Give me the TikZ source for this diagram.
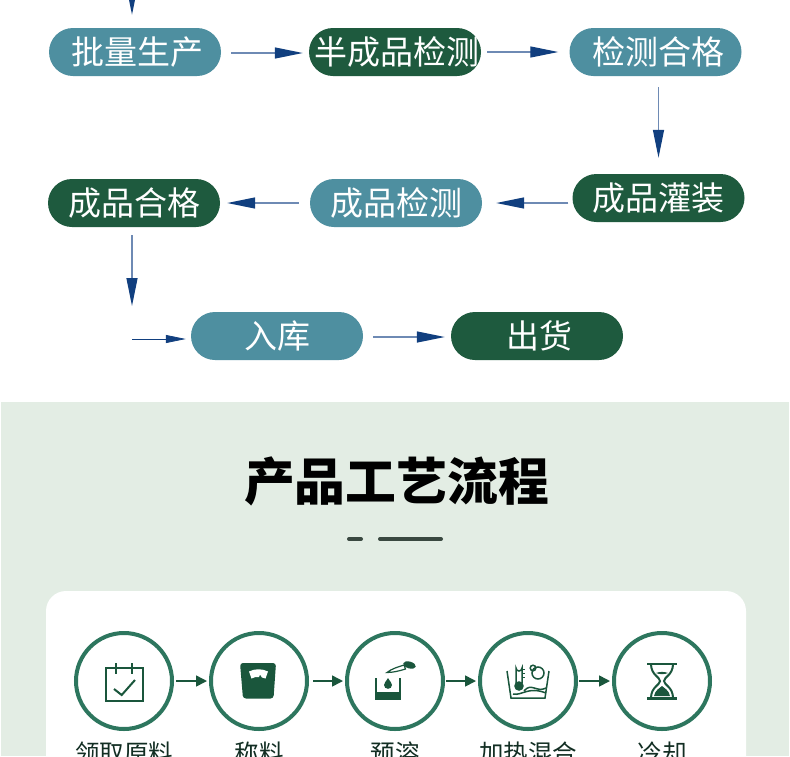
\documentclass[tikz,border=0pt]{standalone}
\usepackage{fontspec}
\newfontfamily\cjk{Noto Sans CJK SC}
\usetikzlibrary{arrows.meta}
\definecolor{pillTeal}{RGB}{78,143,160}
\definecolor{pillGreen}{RGB}{30,90,62}
\definecolor{headNavy}{RGB}{17,63,127}
\definecolor{lineNavy}{RGB}{110,138,180}
\definecolor{panelGreen}{RGB}{227,237,228}
\definecolor{ringGreen}{RGB}{45,118,94}
\definecolor{iconGreen}{RGB}{26,86,60}
\definecolor{barDark}{RGB}{58,72,64}
\definecolor{labelDark}{RGB}{18,46,35}
\tikzset{
  pill/.style={draw=none, rounded corners=24pt, minimum width=172pt, minimum height=48pt,
    inner sep=0pt, text=white, font=\cjk\fontsize{33}{36}\selectfont},
  flowarrow/.style={draw=lineNavy, line width=1.3pt, -{Triangle[length=28pt,width=11pt,color=headNavy]}},
  ring/.style={circle, draw=ringGreen, line width=4pt, minimum size=96pt, inner sep=0pt},
  ringarrow/.style={draw=iconGreen, line width=1.6pt, -{Triangle[length=11pt,width=11pt]}},
  steplabel/.style={inner sep=0pt, text=labelDark, font=\cjk\fontsize{24.5}{28}\selectfont},
  iconline/.style={draw=iconGreen, line width=2pt},
}
\begin{document}
\begin{tikzpicture}[x=1pt, y=-1pt]
    \path[use as bounding box, clip] (0,0) rectangle (790,756);
    \fill[white] (0,0) rectangle (790,756);
    % upper flow chart
    \node[pill, fill=pillTeal] (pill1) at (135,52) {\hspace{4pt}批量生产};
    \node[pill, fill=pillGreen] (pill2) at (395,52) {\hspace{4pt}半成品检测};
    \node[pill, fill=pillTeal] (pill3) at (655.5,52) {\hspace{5pt}检测合格};
    \node[pill, fill=pillGreen] (pill4) at (658.5,198) {成品灌装};
    \node[pill, fill=pillTeal] (pill5) at (396,203) {成品检测};
    \node[pill, fill=pillGreen] (pill6) at (134,203) {成品合格};
    \node[pill, fill=pillTeal] (pill7) at (277,336) {入库};
    \node[pill, fill=pillGreen] (pill8) at (537,336) {\hspace{4pt}出货};
    \coordinate (topend) at (132,-20);
    \coordinate (turn1) at (132,306);
    \coordinate (turn2) at (132,339);
    \draw[flowarrow, shorten >=13pt] (topend) -- (topend |- pill1.north);
    \draw[flowarrow, shorten <=10pt, shorten >=6pt] ([yshift=-1pt]pill1.east) -- ([yshift=-1pt]pill2.west);
    \draw[flowarrow, shorten <=6pt, shorten >=11pt] (pill2.east) -- (pill3.west);
    \draw[flowarrow, shorten <=11pt, shorten >=16pt] (pill3.south -| pill4.north) -- (pill4.north);
    \draw[flowarrow, shorten <=4pt, shorten >=14pt] (pill4.west |- pill5.east) -- (pill5.east);
    \draw[flowarrow, shorten <=11pt, shorten >=7pt] (pill5.west) -- (pill6.east);
    \draw[flowarrow, shorten <=8pt] (turn1 |- pill6.south) -- (turn1);
    \draw[draw=headNavy, line width=0.8pt, -{Triangle[length=20pt,width=8pt,color=headNavy]}, shorten >=5pt] (turn2) -- (pill7.west |- turn2);
    \draw[flowarrow, shorten <=10pt, shorten >=6pt] ([yshift=-1pt]pill7.east) -- ([yshift=-1pt]pill8.west);
    % lower panel
    \fill[panelGreen] (1,402) rectangle (789,756);
    \node[inner sep=0pt, text=black, font=\cjk\bfseries\fontsize{50.8}{56}\selectfont] (title) at (396.5,481) {产品工艺流程};
    \draw[barDark, line width=4pt, line cap=round] (349,539) -- (361,539);
    \draw[barDark, line width=4pt, line cap=round] (380,539) -- (441,539);
    \fill[white, rounded corners=20pt] (46,591) rectangle (746,800);
    % process steps
    \foreach \i/\x/\txt in {1/124/领取原料,2/259/称料,3/395/预溶,4/528/加热混合,5/662/冷却}{
      \node[ring] (ring\i) at (\x,681) {};
      \node[steplabel] (lab\i) at (\x,753) {\txt};}
    \foreach \a/\b/\s in {1/2/2pt,2/3/4pt,3/4/1pt,4/5/1pt}{
      \draw[ringarrow, shorten <=\s, shorten >=2pt] (ring\a) -- (ring\b);}
    % calendar
    \draw[iconline] (105.7,667.7) rectangle (143.3,700.7);
    \draw[iconline] (115.7,663) -- (115.7,674) (132.3,663) -- (132.3,674);
    \draw[iconline] (114,689) -- (121.7,695) -- (135,680);
    % scale
    \fill[iconGreen, rounded corners=3pt] (240,663) -- (276,663) -- (273.5,698.5) -- (243,698.5) -- cycle;
    \fill[white] (249,671.5) .. controls (255,668.5) and (262,668.5) .. (268,671.5) -- (265.5,678.5) -- (262,677.5) -- (260,674.5) -- (259,677) .. controls (256,676.8) and (254,677.2) .. (251.5,678.5) -- cycle;
    % beaker and dropper
    \draw[iconline] (376,678) -- (376,699) -- (400,699) -- (400,678);
    \fill[iconGreen] (376,692) rectangle (400,700);
    \fill[iconGreen] (388,678) .. controls (386,681.5) and (384,683) .. (384,685) .. controls (384,690) and (392,690) .. (392,685) .. controls (392,683) and (390,681.5) .. (388,678) -- cycle;
    \draw[draw=iconGreen, line width=1.2pt] (387,672.5) .. controls (392,668.5) and (398,667) .. (404,665) -- (405.5,669) .. controls (399,671) and (393,672.5) .. cycle;
    \fill[iconGreen, rotate around={-16:(409.5,665)}] (409.5,665) ellipse (6.5pt and 3.4pt);
    % heating bath
    \draw[iconline, line width=1.5pt] (507,671) -- (511,698) -- (545,698) -- (549,671);
    \draw[iconline, line width=1.5pt] (516,683) -- (516,668) arc (180:0:3) -- (522,683);
    \fill[iconGreen] (519,686) circle (4.8);
    \draw[iconline, line width=1pt] (522,669) -- (525,669) (522,673) -- (525,673) (522,677) -- (525,677);
    \draw[iconline, line width=1.5pt] (524,691) .. controls (531,682) and (537,693) .. (546,688);
    \draw[iconline, line width=1.5pt] (513,694) .. controls (522,696) and (528,686) .. (546,693);
    \draw[iconline, line width=1.5pt] (533,668) circle (2.8);
    \draw[iconline, line width=1.5pt] (538,673) circle (6);
    % hourglass
    \draw[iconline, line width=2.8pt] (647,664) -- (677,664) (647,698.5) -- (677,698.5);
    \draw[iconline] (651,664) .. controls (651,675) and (660,677) .. (660,681) .. controls (660,685) and (651,687) .. (651,698) (673,664) .. controls (673,675) and (664,677) .. (664,681) .. controls (664,685) and (673,687) .. (673,698);
    \fill[iconGreen] (656,673) .. controls (660,671.5) and (664,671.5) .. (668,673) .. controls (665,674.5) and (659,674.5) .. (656,673) -- cycle;
    \fill[iconGreen] (654,696) .. controls (655,690) and (660,688) .. (662,686) .. controls (664,688) and (669,690) .. (670,696) -- cycle;
  \end{tikzpicture}
\end{document}
